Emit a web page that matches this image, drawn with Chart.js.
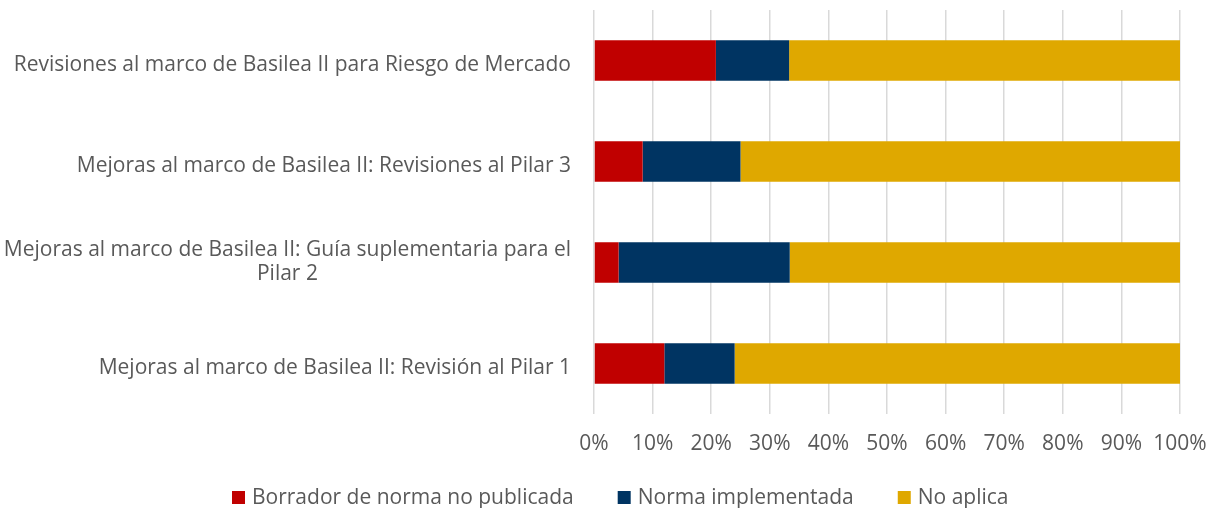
<!DOCTYPE html>
<html>
<head>
<meta charset="utf-8">
<script src="https://cdn.jsdelivr.net/npm/chart.js@4.4.1/dist/chart.umd.min.js"></script>
<style>
html,body{margin:0;padding:0;background:#fff;}
#wrap{width:1211px;height:508px;position:relative;}
</style>
</head>
<body>
<div id="wrap"><canvas id="c" width="1211" height="508"></canvas></div>
<script>
const categories = [
  ['Revisiones al marco de Basilea II para Riesgo de Mercado'],
  ['Mejoras al marco de Basilea II: Revisiones al Pilar 3'],
  ['Mejoras al marco de Basilea II: Guía suplementaria para el', 'Pilar 2'],
  ['Mejoras al marco de Basilea II: Revisión al Pilar 1']
];
const seriesNames = ['Borrador de norma no publicada', 'Norma implementada', 'No aplica'];
const borrador = [20.8, 8.3, 4.2, 12.0];
const implementada = [12.5, 16.7, 29.2, 12.0];
const noAplica = [66.7, 75.0, 66.6, 76.0];
const xTickLabels = ['0%','10%','20%','30%','40%','50%','60%','70%','80%','90%','100%'];

const FONT = '"Open Sans", "Noto Sans", sans-serif';
const FSIZE = 21;
const TEXT = '#595959';

const yLabelPlugin = {
  id: 'yLabels',
  afterDraw(chart) {
    const ctx = chart.ctx;
    const y = chart.scales.y;
    ctx.save();
    ctx.font = FSIZE + 'px ' + FONT;
    ctx.fillStyle = TEXT;
    ctx.textBaseline = 'alphabetic';
    ctx.textAlign = 'center';
    const right = chart.chartArea.left - 23;
    const lh = 24;
    categories.forEach((lines, i) => {
      const cy = y.getPixelForValue(i);
      const w = Math.max(...lines.map(l => ctx.measureText(l).width));
      const cx = right - w / 2;
      const b0 = cy + 10 - (lines.length - 1) * 17;
      lines.forEach((l, j) => ctx.fillText(l, cx, b0 + j * lh));
    });
    ctx.restore();
  }
};

const legendPlugin = {
  id: 'customLegend',
  afterDraw(chart) {
    const ctx = chart.ctx;
    const ds = chart.data.datasets;
    ctx.save();
    ctx.font = FSIZE + 'px ' + FONT;
    const box = 13, gapBox = 7, gapItem = 44, centerX = 620, baseY = 504;
    const widths = ds.map(d => box + gapBox + ctx.measureText(d.label).width);
    const total = widths.reduce((a, b) => a + b, 0) + gapItem * (ds.length - 1);
    let x = Math.round(centerX - total / 2);
    ds.forEach((d, i) => {
      ctx.fillStyle = d.backgroundColor;
      ctx.fillRect(x, baseY - box, box, box);
      ctx.fillStyle = TEXT;
      ctx.textBaseline = 'alphabetic';
      ctx.textAlign = 'left';
      ctx.fillText(d.label, x + box + gapBox, baseY);
      x += widths[i] + gapItem;
    });
    ctx.restore();
  }
};

new Chart(document.getElementById('c'), {
  type: 'bar',
  data: {
    labels: categories.map(c => c.join(' ')),
    datasets: [
      { label: seriesNames[0], data: borrador, backgroundColor: '#C00000' },
      { label: seriesNames[1], data: implementada, backgroundColor: '#003462' },
      { label: seriesNames[2], data: noAplica, backgroundColor: '#DFA800' }
    ]
  },
  options: {
    indexAxis: 'y',
    responsive: false,
    animation: false,
    datasets: { bar: { barPercentage: 0.4, categoryPercentage: 1.0 } },
    layout: { padding: { top: 10, right: 31, left: 0, bottom: 0 } },
    scales: {
      x: {
        stacked: true, min: 0, max: 100,
        ticks: {
          stepSize: 10, color: TEXT, padding: 17,
          maxRotation: 0, minRotation: 0, autoSkip: false,
          font: { family: FONT, size: FSIZE },
          callback: (v, i) => xTickLabels[i]
        },
        grid: { color: '#D9D9D9', lineWidth: 1.5, drawTicks: false },
        border: { display: false },
        afterFit: s => { s.height = 94; s.paddingRight = 0; s.paddingLeft = 0; }
      },
      y: {
        stacked: true,
        ticks: { display: false },
        grid: { display: false },
        border: { display: false },
        afterFit: s => { s.width = 594; }
      }
    },
    plugins: {
      legend: { display: false },
      tooltip: { enabled: false }
    }
  },
  plugins: [yLabelPlugin, legendPlugin]
});
</script>
</body>
</html>
